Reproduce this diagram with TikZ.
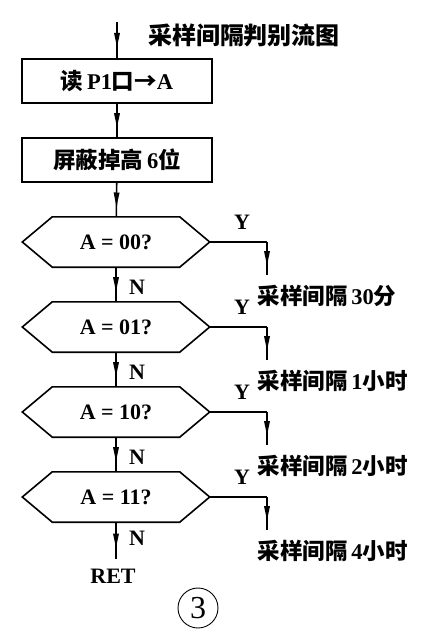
\documentclass[tikz,border=0pt]{standalone}
\usepackage{fontspec}
\setmainfont{Liberation Serif}
\newfontfamily\cjk{Noto Sans CJK SC}
\usetikzlibrary{arrows.meta,positioning,decorations.markings}

\begin{document}
\begin{tikzpicture}[x=1pt,y=-1pt,
  every node/.style={font=\bfseries\fontsize{22.5}{24}\selectfont},
  flow/.style={line width=1.6pt},
  midarrow/.style={flow,postaction={decorate},
    decoration={markings,mark=at position 0.55 with {\fill (-9pt,-3pt) -- (5pt,0pt) -- (-9pt,3pt) -- cycle;}}},
  proc/.style={draw,line width=1.6pt,minimum width=190pt,minimum height=44pt,inner sep=0pt},
  decis/.style={minimum width=187pt,minimum height=50pt,inner sep=0pt},
  lbl/.style={inner sep=1pt,font=\bfseries\fontsize{22}{24}\selectfont}]

			\useasboundingbox (0,0) rectangle (440,641);

			\node[font=\bfseries\fontsize{24}{26}\selectfont] (title) at (244,35) {\cjk 采样间隔判别流图};

			\coordinate (start) at (117,22);
			\node[proc] (read) at (117,81) {{\cjk 读}\,P1{\cjk 口→}A};
			\node[proc] (mask) at (117,160) {{\cjk 屏蔽掉高}\,6{\cjk 位}};

			\foreach \i/\yy/\code/\res in {1/242/00/{{\cjk 采样间隔}\,30{\cjk 分}},
			                            2/327/01/{{\cjk 采样间隔}\,1{\cjk 小时}},
			                            3/412/10/{{\cjk 采样间隔}\,2{\cjk 小时}},
			                            4/497/11/{{\cjk 采样间隔}\,4{\cjk 小时}}} {
				\node[decis,lbl] (d\i) at (116,\yy) {A = \code?};
				\draw[flow] (d\i.west) -- ([xshift=30pt]d\i.north west) -- ([xshift=-30pt]d\i.north east)
					-- (d\i.east) -- ([xshift=-30pt]d\i.south east) -- ([xshift=30pt]d\i.south west) -- cycle;
				\coordinate (c\i) at (267,\yy);
				\coordinate (e\i) at (267,\yy+33);
				\node[lbl] (y\i) at (242,\yy-20) {Y};
				\node[anchor=west] (r\i) at (254,\yy+54) {\res};
				\draw[flow] (d\i.east) -- (c\i);
				\draw[midarrow] (c\i) -- (e\i);
			}

			\node[lbl] (ret) at (113,576) {RET};

			\draw[midarrow] (start) -- (read);
			\draw[midarrow] (read) -- (mask);
			\draw[midarrow] (mask) -- (d1);
			\foreach \a/\b in {1/2,2/3,3/4} {
				\draw[midarrow] (d\a) -- (d\b);
				\node[lbl] (n\a) at (137,{(\a-1)*85+287}) {N};
			}
			\draw[midarrow] (d4.south) -- ++(0,37);
			\node[lbl] (n4) at (137,538) {N};

			\node[circle,draw,line width=0.9pt,minimum size=40pt,inner sep=0pt,
				font=\fontsize{32}{32}\selectfont] (num) at (198,608) {3};

		\end{tikzpicture}
\end{document}
